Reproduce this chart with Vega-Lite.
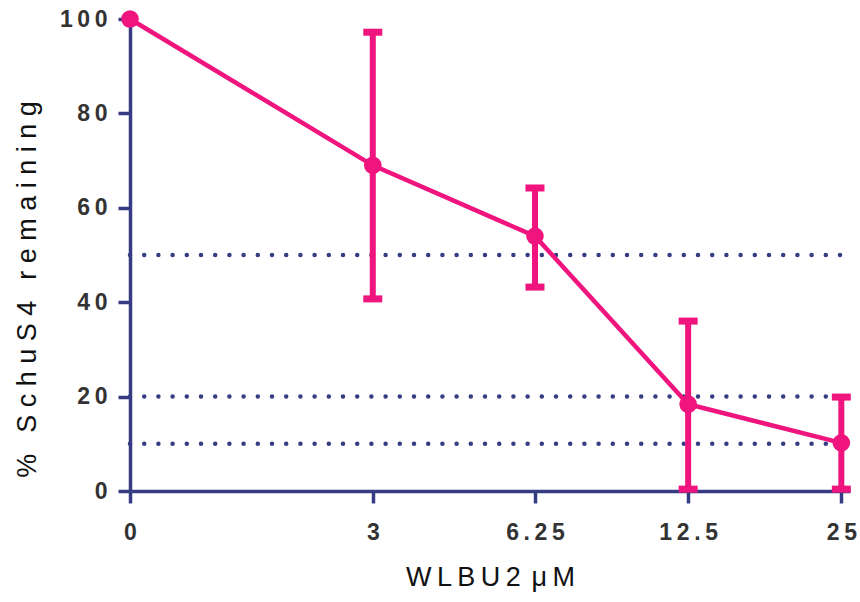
{
  "$schema": "https://vega.github.io/schema/vega-lite/v6.json",
  "autosize": "none",
  "width": 720,
  "height": 472,
  "padding": {"left": 130, "top": 19, "right": 10, "bottom": 111},
  "background": "white",
  "config": {
    "view": {"stroke": null},
    "font": "Liberation Sans"
  },
  "datasets": {
    "points": [
      {"dose": 1, "mean": 100, "low": 100, "high": 100},
      {"dose": 3, "mean": 69, "low": 40.7, "high": 97.2},
      {"dose": 6.25, "mean": 54, "low": 43.2, "high": 64.2},
      {"dose": 12.5, "mean": 18.4, "low": 0.4, "high": 36},
      {"dose": 25, "mean": 10.2, "low": 0.4, "high": 19.9}
    ],
    "levels": [{"level": 50}, {"level": 20}, {"level": 10}]
  },
  "layer": [
    {
      "data": {"name": "levels"},
      "mark": {"type": "rule", "color": "#363C84", "strokeWidth": 4.5, "strokeDash": [0, 14.2], "strokeCap": "round"},
      "encoding": {
        "y": {"field": "level", "type": "quantitative", "scale": {"domain": [0, 100], "nice": false}},
        "x": {"datum": 1, "type": "quantitative", "scale": {"type": "log", "domain": [1, 26], "nice": false}},
        "x2": {"datum": 25}
      }
    },
    {
      "data": {"name": "points"},
      "mark": {"type": "line", "color": "#F0147E", "strokeWidth": 4.5, "clip": false},
      "encoding": {
        "x": {
          "field": "dose", "type": "quantitative",
          "scale": {"type": "log", "domain": [1, 26], "nice": false},
          "axis": {
            "values": [1, 3, 6.25, 12.5, 25],
            "labelExpr": "datum.value == 1 ? '0' : datum.value == 3 ? '3' : datum.value == 6.25 ? '6\u2009.\u20092\u20095' : datum.value == 12.5 ? '1\u20092\u2009.\u20095' : '2\u20095'",
            "title": "W\u2009L\u2009B\u2009U\u20092\u2009\u2009\u03bc\u2009M",
            "grid": false,
            "domainColor": "#363C84", "domainWidth": 3.5,
            "tickColor": "#363C84", "tickWidth": 3.5, "tickSize": 12,
            "labelFont": "Liberation Sans", "labelFontSize": 23, "labelFontWeight": "bold", "labelColor": "#333333",
            "labelPadding": 18, "labelFlush": false, "labelOverlap": false,
            "titleFont": "Liberation Sans", "titleFontSize": 27, "titleFontWeight": "normal", "titleColor": "#111111",
            "titlePadding": 20
          }
        },
        "y": {
          "field": "mean", "type": "quantitative",
          "scale": {"domain": [0, 100], "nice": false},
          "axis": {
            "values": [0, 20, 40, 60, 80, 100],
            "labelExpr": "datum.value == 100 ? '1\u20090\u20090' : datum.value == 0 ? '0' : substring(datum.label, 0, 1) + '\u2009' + substring(datum.label, 1, 2)",
            "title": "% \u2002S c h u S 4 \u2002r e m a i n i n g",
            "grid": false,
            "domainColor": "#363C84", "domainWidth": 3.5,
            "tickColor": "#363C84", "tickWidth": 3.5, "tickSize": 12,
            "labelFont": "Liberation Sans", "labelFontSize": 23, "labelFontWeight": "bold", "labelColor": "#333333",
            "labelPadding": 11, "labelFlush": false, "labelOverlap": false,
            "titleFont": "Liberation Sans", "titleFontSize": 27, "titleFontWeight": "normal", "titleColor": "#111111",
            "titlePadding": 18, "titleY": 270
          }
        }
      }
    },
    {
      "data": {"name": "points"},
      "mark": {"type": "rule", "color": "#F0147E", "strokeWidth": 6, "clip": false},
      "encoding": {
        "x": {"field": "dose", "type": "quantitative"},
        "y": {"field": "low", "type": "quantitative"},
        "y2": {"field": "high"}
      }
    },
    {
      "data": {"name": "points"},
      "transform": [{"filter": "datum.low < datum.high"}],
      "mark": {"type": "tick", "color": "#F0147E", "orient": "horizontal", "size": 19, "thickness": 7, "opacity": 1, "clip": false},
      "encoding": {
        "x": {"field": "dose", "type": "quantitative"},
        "y": {"field": "low", "type": "quantitative"}
      }
    },
    {
      "data": {"name": "points"},
      "transform": [{"filter": "datum.low < datum.high"}],
      "mark": {"type": "tick", "color": "#F0147E", "orient": "horizontal", "size": 19, "thickness": 7, "opacity": 1, "clip": false},
      "encoding": {
        "x": {"field": "dose", "type": "quantitative"},
        "y": {"field": "high", "type": "quantitative"}
      }
    },
    {
      "data": {"name": "points"},
      "mark": {"type": "point", "shape": "circle", "filled": true, "color": "#F0147E", "size": 310, "opacity": 1, "clip": false},
      "encoding": {
        "x": {"field": "dose", "type": "quantitative"},
        "y": {"field": "mean", "type": "quantitative"}
      }
    }
  ]
}
